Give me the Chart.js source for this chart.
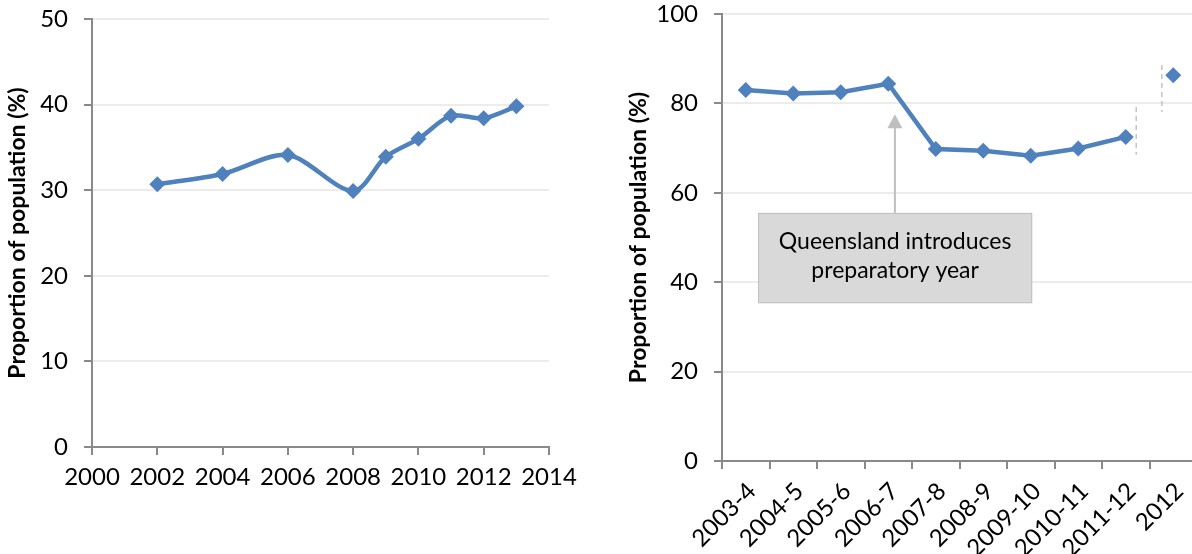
<!DOCTYPE html>
<html>
<head>
<meta charset="utf-8">
<script src="https://cdn.jsdelivr.net/npm/chart.js@4.4.1/dist/chart.umd.min.js"></script>
<style>
  html, body { margin: 0; padding: 0; background: #fff; overflow: hidden; width: 1192px; height: 554px; }
  #left { position: absolute; left: 0; top: 0; }
  #right { position: absolute; left: 600px; top: 0; }
</style>
</head>
<body>
<canvas id="left" width="600" height="554"></canvas>
<canvas id="right" width="610" height="554"></canvas>
<script>
// ---- datos ----
const leftYears = [2002, 2004, 2006, 2008, 2009, 2010, 2011, 2012, 2013];
const leftValues = [30.7, 31.9, 34.1, 29.9, 33.9, 36.0, 38.7, 38.4, 39.8];
const leftXTicks = [2000, 2002, 2004, 2006, 2008, 2010, 2012, 2014];
const leftYTicks = [0, 10, 20, 30, 40, 50];

const rightCategories = ["2003-4", "2004-5", "2005-6", "2006-7", "2007-8", "2008-9", "2009-10", "2010-11", "2011-12", "2012"];
const rightValues = [83.0, 82.2, 82.5, 84.4, 69.8, 69.4, 68.3, 69.9, 72.5, null];
const rightNewSeries = [null, null, null, null, null, null, null, null, null, 86.3];
const rightYTicks = [0, 20, 40, 60, 80, 100];

const yTitle = "Proportion of population (%)";
const noteLines = ["Queensland introduces", "preparatory year"];

// anotaciones (en unidades de datos)
const noteBox = { x0: 0.26, x1: 6.03, y0: 55.5, y1: 35.3 };
const noteArrow = { x: 3.14, from: 55.5, to: 77.6 };
const breakLines = [
  { x: 8.22, from: 79.2, to: 68.5 },
  { x: 8.76, from: 88.6, to: 78.1 }
];

const BLUE = "#4f81bd";
const AXIS = "#898989";
const GRID = "#ececec";
const FONT = "Lato, 'Open Sans', sans-serif";

Chart.defaults.font.family = FONT;
Chart.defaults.color = "#000";

function tickFont() { return { family: FONT, size: 24 }; }
function titleFont() { return { family: FONT, size: 23, weight: "bold" }; }

// tamaños fijos de ejes, sin relleno automatico
function fixY(width) {
  return s => { s.width = width; s.paddingTop = 0; s.paddingBottom = 0; };
}
function fixX(height) {
  return s => { s.height = height; s.paddingLeft = 0; s.paddingRight = 0; };
}

// ---- grafico izquierdo ----
new Chart(document.getElementById("left"), {
  type: "line",
  data: {
    datasets: [{
      data: leftYears.map((y, i) => ({ x: y, y: leftValues[i] })),
      borderColor: BLUE,
      backgroundColor: BLUE,
      borderWidth: 4.5,
      tension: 0.3,
      pointStyle: "rectRot",
      pointRadius: 8,
      pointBorderWidth: 0,
      pointBackgroundColor: BLUE,
      clip: false
    }]
  },
  options: {
    responsive: false,
    animation: false,
    events: [],
    layout: { autoPadding: false, padding: { top: 19, right: 51, left: 0, bottom: 0 } },
    plugins: { legend: { display: false }, tooltip: { enabled: false } },
    scales: {
      x: {
        type: "linear",
        min: leftXTicks[0],
        max: leftXTicks[leftXTicks.length - 1],
        afterFit: fixX(107),
        ticks: { stepSize: 2, font: tickFont(), padding: 8, callback: v => String(v) },
        grid: { drawOnChartArea: false, drawTicks: true, tickLength: 8, tickColor: AXIS, lineWidth: 2 },
        border: { color: AXIS, width: 2 }
      },
      y: {
        min: leftYTicks[0],
        max: leftYTicks[leftYTicks.length - 1],
        afterFit: fixY(92),
        ticks: { stepSize: 10, font: tickFont(), padding: 16 },
        grid: { color: GRID, lineWidth: 2, tickLength: 8, tickColor: AXIS },
        border: { color: AXIS, width: 2 },
        title: { display: true, text: yTitle, font: titleFont(), padding: { top: 4, bottom: 0 } }
      }
    }
  }
});

// ---- anotaciones del grafico derecho ----
const annotations = {
  id: "annotations",
  beforeDatasetsDraw(chart) {
    const { ctx, scales: { x, y } } = chart;
    ctx.save();

    // lineas discontinuas
    ctx.strokeStyle = "#c3c3c3";
    ctx.lineWidth = 1.5;
    ctx.setLineDash([5, 4]);
    breakLines.forEach(l => {
      const px = x.getPixelForValue(l.x);
      ctx.beginPath();
      ctx.moveTo(px, y.getPixelForValue(l.from));
      ctx.lineTo(px, y.getPixelForValue(l.to));
      ctx.stroke();
    });
    ctx.setLineDash([]);

    // flecha
    const ax = x.getPixelForValue(noteArrow.x);
    const aBase = y.getPixelForValue(noteArrow.from);
    const aTip = y.getPixelForValue(noteArrow.to);
    ctx.strokeStyle = "#bfbfbf";
    ctx.fillStyle = "#bfbfbf";
    ctx.lineWidth = 2;
    ctx.beginPath();
    ctx.moveTo(ax, aBase);
    ctx.lineTo(ax, aTip + 12);
    ctx.stroke();
    ctx.beginPath();
    ctx.moveTo(ax, aTip);
    ctx.lineTo(ax - 7.5, aTip + 14);
    ctx.lineTo(ax + 7.5, aTip + 14);
    ctx.closePath();
    ctx.fill();

    // caja
    const bx0 = x.getPixelForValue(noteBox.x0);
    const bx1 = x.getPixelForValue(noteBox.x1);
    const by0 = y.getPixelForValue(noteBox.y0);
    const by1 = y.getPixelForValue(noteBox.y1);
    ctx.fillStyle = "#d9d9d9";
    ctx.fillRect(bx0, by0, bx1 - bx0, by1 - by0);
    ctx.strokeStyle = "#bfbfbf";
    ctx.lineWidth = 1;
    ctx.strokeRect(bx0 + 0.5, by0 + 0.5, bx1 - bx0 - 1, by1 - by0 - 1);

    ctx.fillStyle = "#000";
    ctx.font = "23px " + FONT;
    ctx.textAlign = "center";
    ctx.textBaseline = "middle";
    const cx = (bx0 + bx1) / 2;
    const cy = (by0 + by1) / 2;
    ctx.fillText(noteLines[0], cx, cy - 16);
    ctx.fillText(noteLines[1], cx, cy + 13);
    ctx.restore();
  }
};

// ---- grafico derecho ----
const pointStyle = {
  borderColor: BLUE,
  backgroundColor: BLUE,
  pointStyle: "rectRot",
  pointRadius: 8,
  pointBorderWidth: 0,
  pointBackgroundColor: BLUE,
  clip: false
};

new Chart(document.getElementById("right"), {
  type: "line",
  data: {
    labels: rightCategories,
    datasets: [
      Object.assign({ data: rightValues, borderWidth: 4.5, tension: 0, spanGaps: false }, pointStyle),
      Object.assign({ data: rightNewSeries, showLine: false }, pointStyle)
    ]
  },
  options: {
    responsive: false,
    animation: false,
    events: [],
    layout: { autoPadding: false, padding: { top: 14, right: 13, left: 0, bottom: 0 } },
    plugins: { legend: { display: false }, tooltip: { enabled: false } },
    scales: {
      x: {
        offset: true,
        afterFit: fixX(93),
        ticks: { font: tickFont(), minRotation: 45, maxRotation: 45, padding: 8, labelOffset: 6, autoSkip: false },
        grid: { offset: true, drawOnChartArea: false, drawTicks: true, tickLength: 8, tickColor: AXIS, lineWidth: 2 },
        border: { color: AXIS, width: 2 }
      },
      y: {
        min: rightYTicks[0],
        max: rightYTicks[rightYTicks.length - 1],
        afterFit: fixY(122),
        ticks: { stepSize: 20, font: tickFont(), padding: 16 },
        grid: { color: GRID, lineWidth: 2, tickLength: 8, tickColor: AXIS },
        border: { color: AXIS, width: 2 },
        title: { display: true, text: yTitle, font: titleFont(), padding: { top: 25, bottom: 0 } }
      }
    }
  },
  plugins: [annotations]
});
</script>
</body>
</html>
